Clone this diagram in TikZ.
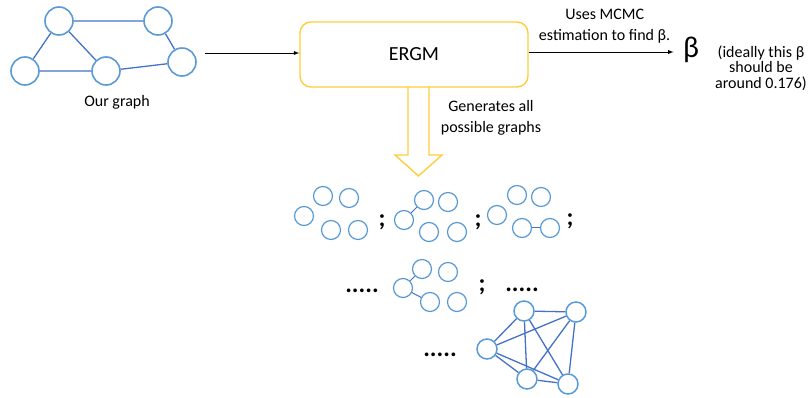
\documentclass[tikz,border=0pt]{standalone}
\usepackage{fontspec}
\setmainfont{Carlito}
\usetikzlibrary{shapes,arrows,positioning}
\definecolor{nodeblue}{RGB}{91,155,213}
\definecolor{edgeblue}{RGB}{68,114,196}
\definecolor{ergmgold}{RGB}{255,204,60}

\begin{document}
\begin{tikzpicture}[x=1pt,y=-1pt,>=latex,line width=0.9pt]
\tikzstyle{vertex}=[circle,draw=nodeblue,fill=white,line width=1.6pt,minimum size=28pt,inner sep=0pt]
\tikzstyle{small vertex}=[vertex,minimum size=19pt,line width=1.2pt]
\tikzstyle{big vertex}=[vertex,minimum size=20pt,line width=1.5pt]
\tikzstyle{link}=[draw=edgeblue,line width=1.3pt]
\tikzstyle{txt}=[font=\fontsize{16}{21}\selectfont,align=center,inner sep=0pt]
\tikzstyle{sep}=[font=\bfseries\fontsize{25}{25}\selectfont,anchor=base,inner sep=0pt]
\useasboundingbox (0,0) rectangle (809,398);

% our graph
\node[vertex] (o1) at (59,21) {};
\node[vertex] (o2) at (158,21) {};
\node[vertex] (o3) at (182,62) {};
\node[vertex] (o4) at (25,71) {};
\node[vertex] (o5) at (106,71) {};
\path[link] (o1) -- (o2) (o1) -- (o4) (o1) -- (o5) (o4) -- (o5) (o5) -- (o3) (o2) -- (o3);
\node[txt] (ourlabel) at (117,102) {Our graph};

% model
\node[draw=ergmgold,line width=1.4pt,rounded corners=11pt,minimum width=228pt,minimum height=65pt,
      font=\fontsize{20}{24}\selectfont] (ergm) at (414,54.5) {ERGM};
\coordinate (graphout) at (205,53);
\draw[->] (graphout) -- (graphout -| ergm.west);

\node[font=\fontsize{30}{30}\selectfont,inner sep=2pt] (beta) at (691,50) {β};
\draw[->,shorten >=7pt] (ergm.east |- 0,52) -- node[txt,above=8pt] {Uses MCMC\\estimation to find β.} (beta.west |- 0,52);
\node[txt,font=\fontsize{16}{15.5}\selectfont] (note) at (761,68) {(ideally this β\\should be\\around 0.176)};

% hollow arrow down
\draw[ergmgold,line width=1.4pt] (408,87) -- (408,155) -- (395,155) -- (418.5,176) -- (442,155) -- (429,155) -- (429,87);
\node[txt] (genlabel) at (491,117.5) {Generates all\\possible graphs};

% sampled graphs
\node[small vertex] (a1) at (304,216) {};
\node[small vertex] (a2) at (323,196) {};
\node[small vertex] (a3) at (349,198) {};
\node[small vertex] (a4) at (331,230) {};
\node[small vertex] (a5) at (358,230) {};
\node[sep] (semi1) at (382,227) {;};

\node[small vertex] (b1) at (404,220) {};
\node[small vertex] (b2) at (424,200) {};
\node[small vertex] (b3) at (448,202) {};
\node[small vertex] (b4) at (429,232) {};
\node[small vertex] (b5) at (457,232) {};
\path[link,line width=1pt] (b1) -- (b2);
\node[sep] (semi2) at (478,227) {;};

\node[small vertex] (c1) at (497,215) {};
\node[small vertex] (c2) at (517,195) {};
\node[small vertex] (c3) at (541,197) {};
\node[small vertex] (c4) at (522,228) {};
\node[small vertex] (c5) at (550,228) {};
\path[link,line width=1pt] (c4) -- (c5);
\node[sep] (semi3) at (570,226) {;};

\node[sep] (dots1) at (362,292) {.....};
\node[small vertex] (d1) at (403,288) {};
\node[small vertex] (d2) at (422,269) {};
\node[small vertex] (d3) at (448,272) {};
\node[small vertex] (d4) at (430,302) {};
\node[small vertex] (d5) at (457,302) {};
\path[link,line width=1pt] (d1) -- (d2) (d1) -- (d4);
\node[sep] (semi4) at (482,291) {;};
\node[sep] (dots2) at (522,291) {.....};

% complete graph
\node[sep] (dots3) at (440,356) {.....};
\node[big vertex] (k1) at (524,311) {};
\node[big vertex] (k2) at (576,312) {};
\node[big vertex] (k3) at (487,349) {};
\node[big vertex] (k4) at (527,379) {};
\node[big vertex] (k5) at (568,384) {};
\path[link] (k1) -- (k2) (k1) -- (k3) (k1) -- (k4) (k1) -- (k5)
            (k2) -- (k3) (k2) -- (k4) (k2) -- (k5)
            (k3) -- (k4) (k3) -- (k5) (k4) -- (k5);
\end{tikzpicture}
\end{document}
